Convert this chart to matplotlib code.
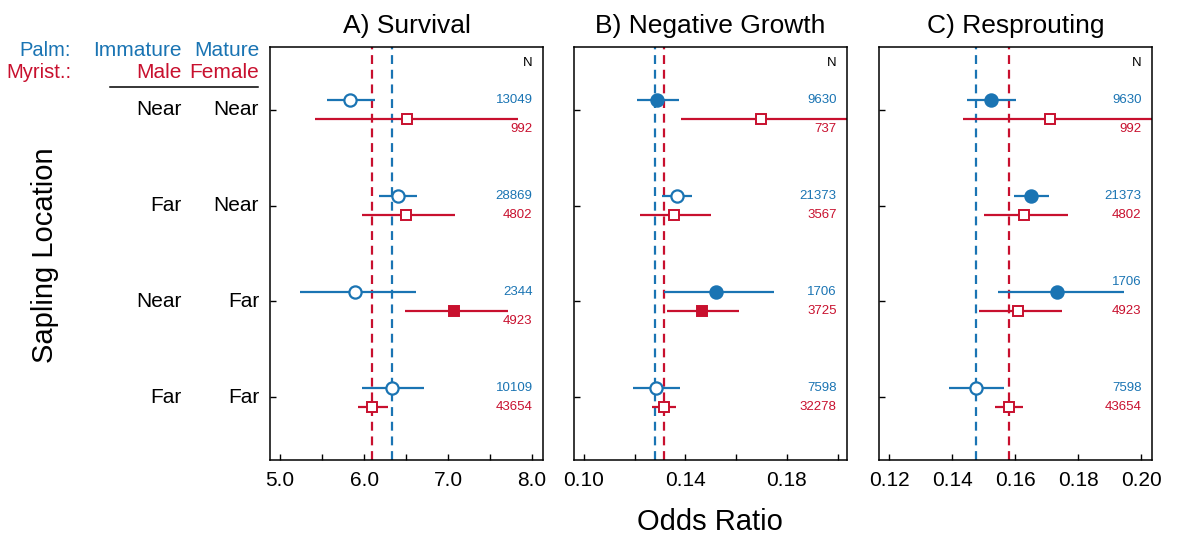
import matplotlib
matplotlib.use("Agg")
import matplotlib.pyplot as plt
import matplotlib.transforms as mtransforms
import numpy as np

plt.rcParams['font.family'] = ['Liberation Sans', 'DejaVu Sans']

BLUE = "#1a74b3"
RED = "#c8102e"

# ---------------- data ----------------
rows_palm = ["Near", "Near", "Far", "Far"]        # column "Immature" / "Male"
rows_myr = ["Near", "Far", "Near", "Far"]          # column "Mature" / "Female"
# note: the picture lists first column then second column per row
row_col1 = ["Near", "Far", "Near", "Far"]
row_col2 = ["Near", "Near", "Far", "Far"]

titles = ["A) Survival", "B) Negative Growth", "C) Resprouting"]

# Survival
surv_blue_est = [5.83, 6.40, 5.89, 6.33]
surv_blue_lo = [5.56, 6.18, 5.24, 5.97]
surv_blue_hi = [6.13, 6.63, 6.62, 6.71]
surv_red_est = [6.51, 6.50, 7.07, 6.10]
surv_red_lo = [5.41, 5.97, 6.49, 5.93]
surv_red_hi = [7.83, 7.08, 7.71, 6.28]
surv_blue_n = [13049, 28869, 2344, 10109]
surv_red_n = [992, 4802, 4923, 43654]
surv_blue_filled = [False, False, False, False]
surv_red_filled = [False, False, True, False]
surv_ref_blue = 6.33
surv_ref_red = 6.10

# Negative growth
grow_blue_est = [0.1289, 0.1366, 0.1520, 0.1283]
grow_blue_lo = [0.1208, 0.1309, 0.1317, 0.1192]
grow_blue_hi = [0.1375, 0.1425, 0.1749, 0.1379]
grow_red_est = [0.1699, 0.1354, 0.1465, 0.1315]
grow_red_lo = [0.1383, 0.1221, 0.1328, 0.1268]
grow_red_hi = [0.2150, 0.1501, 0.1613, 0.1362]
grow_blue_n = [9630, 21373, 1706, 7598]
grow_red_n = [737, 3567, 3725, 32278]
grow_blue_filled = [True, False, True, False]
grow_red_filled = [False, False, True, False]
grow_ref_blue = 0.1281
grow_ref_red = 0.1315

# Resprouting
resp_blue_est = [0.1522, 0.1649, 0.1734, 0.1476]
resp_blue_lo = [0.1446, 0.1595, 0.1545, 0.1390]
resp_blue_hi = [0.1604, 0.1707, 0.1944, 0.1565]
resp_red_est = [0.1712, 0.1628, 0.1609, 0.1580]
resp_red_lo = [0.1433, 0.1500, 0.1484, 0.1536]
resp_red_hi = [0.2150, 0.1767, 0.1747, 0.1625]
resp_blue_n = [9630, 21373, 1706, 7598]
resp_red_n = [992, 4802, 4923, 43654]
resp_blue_filled = [True, True, True, False]
resp_red_filled = [False, False, False, False]
resp_ref_blue = 0.1475
resp_ref_red = 0.1580

xlims = [(4.88, 8.13), (0.0961, 0.2037), (0.1168, 0.2034)]
major_ticks = [[5.0, 6.0, 7.0, 8.0], [0.10, 0.14, 0.18], [0.12, 0.14, 0.16, 0.18, 0.20]]
major_labels = [["5.0", "6.0", "7.0", "8.0"], ["0.10", "0.14", "0.18"],
                ["0.12", "0.14", "0.16", "0.18", "0.20"]]
minor_ticks = [[5.5, 6.5, 7.5], [0.12, 0.16, 0.20], []]

panels = [
    dict(be=surv_blue_est, bl=surv_blue_lo, bh=surv_blue_hi, re=surv_red_est, rl=surv_red_lo,
         rh=surv_red_hi, bn=surv_blue_n, rn=surv_red_n, bf=surv_blue_filled, rf=surv_red_filled,
         refb=surv_ref_blue, refr=surv_ref_red),
    dict(be=grow_blue_est, bl=grow_blue_lo, bh=grow_blue_hi, re=grow_red_est, rl=grow_red_lo,
         rh=grow_red_hi, bn=grow_blue_n, rn=grow_red_n, bf=grow_blue_filled, rf=grow_red_filled,
         refb=grow_ref_blue, refr=grow_ref_red),
    dict(be=resp_blue_est, bl=resp_blue_lo, bh=resp_blue_hi, re=resp_red_est, rl=resp_red_lo,
         rh=resp_red_hi, bn=resp_blue_n, rn=resp_red_n, bf=resp_blue_filled, rf=resp_red_filled,
         refb=resp_ref_blue, refr=resp_ref_red),
]

W, H = 1200, 540
fig = plt.figure(figsize=(W / 100, H / 100), dpi=100)

ax_left_px = [270, 574, 879]
ax_w_px = 273
ax_top_px, ax_bot_px = 47, 460
OFF = 0.1
ypos = np.arange(1, 5)

axes = []
label_info = []
for i, p in enumerate(panels):
    ax = fig.add_axes([ax_left_px[i] / W, (H - ax_bot_px) / H, ax_w_px / W,
                       (ax_bot_px - ax_top_px) / H])
    axes.append(ax)
    ax.set_xlim(*xlims[i])
    ax.set_ylim(4.656, 0.344)
    ax.axvline(p['refr'], color=RED, lw=1.6, ls=(0, (4, 2.6)), zorder=1)
    ax.axvline(p['refb'], color=BLUE, lw=1.6, ls=(0, (4, 2.6)), zorder=1)
    yb = ypos - OFF
    yr = ypos + OFF
    ax.hlines(yb, p['bl'], p['bh'], color=BLUE, lw=1.6, zorder=2)
    ax.hlines(yr, p['rl'], p['rh'], color=RED, lw=1.6, zorder=2)
    for k in range(4):
        ax.plot(p['be'][k], yb[k], 'o', ms=8.8, mec=BLUE, mew=1.6,
                mfc=BLUE if p['bf'][k] else 'white', zorder=3)
        ax.plot(p['re'][k], yr[k], 's', ms=7.2, mec=RED, mew=1.4,
                mfc=RED if p['rf'][k] else 'white', zorder=3)
    trans = mtransforms.blended_transform_factory(ax.transAxes, ax.transData)
    ax.annotate("N", xy=(1, 0.51), xycoords=trans, xytext=(-7.5, 0),
                textcoords='offset points', ha='right', va='center', fontsize=9.5)
    for k in range(4):
        tb = ax.annotate(str(p['bn'][k]), xy=(1, yb[k]), xycoords=trans, xytext=(-7.5, 0),
                         textcoords='offset points', ha='right', va='center',
                         fontsize=9.5, color=BLUE)
        tr = ax.annotate(str(p['rn'][k]), xy=(1, yr[k]), xycoords=trans, xytext=(-7.5, 0),
                         textcoords='offset points', ha='right', va='center',
                         fontsize=9.5, color=RED)
        label_info.append((ax, tb, p['bh'][k], yb[k], -OFF))
        label_info.append((ax, tr, p['rh'][k], yr[k], OFF))

    ax.set_xticks(major_ticks[i])
    ax.set_xticklabels(major_labels[i])
    ax.set_xticks(minor_ticks[i], minor=True)
    ax.set_yticks(ypos)
    ax.set_yticklabels([])
    ax.tick_params(axis='both', which='both', direction='in', length=4.5, width=1.0,
                   labelsize=15, pad=8)
    for s in ax.spines.values():
        s.set_linewidth(1.1)
    ax.set_title(titles[i], fontsize=19, pad=10)

# shift N labels that collide with the confidence interval line
fig.canvas.draw()
renderer = fig.canvas.get_renderer()
for ax, t, hi, y, shift in label_info:
    bb = t.get_window_extent(renderer)
    hi_px = ax.transData.transform((hi, y))[0]
    if hi_px > bb.x0 - 2:
        trans = mtransforms.blended_transform_factory(ax.transAxes, ax.transData)
        t.xy = (1, y + shift)

# left-side labels
axA = axes[0]
btrans = mtransforms.blended_transform_factory(fig.transFigure, axA.transData)
for k in range(4):
    fig.text(182 / W, ypos[k], row_col1[k], transform=btrans, ha='right', va='center', fontsize=15)
    fig.text(259 / W, ypos[k], row_col2[k], transform=btrans, ha='right', va='center', fontsize=15)

fig.text(71 / W, 1 - 50 / H, "Palm:", ha='right', va='center', fontsize=14.5, color=BLUE)
fig.text(182 / W, 1 - 50 / H, "Immature", ha='right', va='center', fontsize=15, color=BLUE)
fig.text(259 / W, 1 - 50 / H, "Mature", ha='right', va='center', fontsize=15, color=BLUE)
fig.text(71 / W, 1 - 73 / H, "Myrist.:", ha='right', va='center', fontsize=14.5, color=RED)
fig.text(182 / W, 1 - 73 / H, "Male", ha='right', va='center', fontsize=15, color=RED)
fig.text(259 / W, 1 - 73 / H, "Female", ha='right', va='center', fontsize=15, color=RED)
fig.add_artist(plt.Line2D([110 / W, 258 / W], [1 - 87 / H, 1 - 87 / H], color='black', lw=1.1,
                          transform=fig.transFigure))

fig.text(45 / W, 1 - 255 / H, "Sapling Location", rotation=90, ha='center', va='center', fontsize=21)
fig.text(710 / W, 1 - 522 / H, "Odds Ratio", ha='center', va='center', fontsize=21)

fig.savefig("out.png", dpi=100)
